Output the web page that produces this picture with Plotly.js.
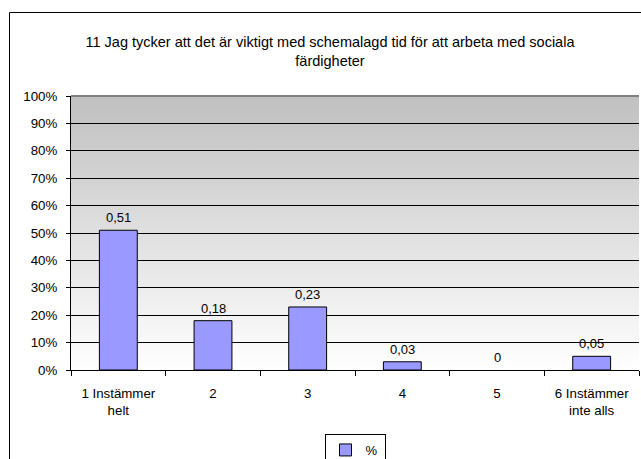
<!DOCTYPE html>
<html>
<head>
<meta charset="utf-8">
<script src="https://cdn.plot.ly/plotly-3.0.1.min.js"></script>
<style>
  html, body { margin: 0; padding: 0; background: #ffffff; }
  #wrap { position: relative; width: 641px; height: 459px; overflow: hidden; }
  #bg { position: absolute; left: 71px; top: 96px; width: 568px; height: 274px;
        background: linear-gradient(to bottom, #c0c0c0 0%, #ffffff 100%); z-index: 0; }
  #chart { position: absolute; left: 0; top: 0; width: 641px; height: 459px; z-index: 1; }
</style>
</head>
<body>
<div id="wrap">
  <div id="bg"></div>
  <div id="chart"></div>
</div>
<script>
const categories = ["1 Instämmer<br>helt", "2", "3", "4", "5", "6 Instämmer<br>inte alls"];
const values = [0.51, 0.18, 0.23, 0.03, 0, 0.05];
const seriesName = "%";
const chartTitle = "11 Jag tycker att det är viktigt med schemalagd tid för att arbeta med sociala<br>färdigheter";
const labels = values.map(v => String(v).replace('.', ','));

const FONT = "Liberation Sans, Arial, sans-serif";

const bars = {
  type: 'bar',
  x: categories,
  y: values,
  name: seriesName,
  width: 0.4,
  marker: { color: '#9999ff', line: { color: '#000000', width: values.map(v => v === 0 ? 0 : 1) } },
  hoverinfo: 'skip'
};

const valueAnnotations = categories.map((c, i) => ({
  x: i, y: values[i], xref: 'x', yref: 'y',
  text: labels[i], showarrow: false,
  yanchor: 'bottom', xanchor: 'center', yshift: 3,
  font: { family: FONT, size: 13, color: '#000' }
}));

const layout = {
  width: 641,
  height: 459,
  margin: { l: 71, r: 2, t: 96, b: 89, pad: 0, autoexpand: false },
  paper_bgcolor: 'rgba(0,0,0,0)',
  plot_bgcolor: 'rgba(0,0,0,0)',
  font: { family: FONT, size: 13, color: '#000' },
  title: {
    text: chartTitle,
    font: { family: FONT, size: 14.5, color: '#000' },
    xref: 'container', x: 330 / 641, xanchor: 'center',
    yref: 'container', y: 1 - 47 / 459, yanchor: 'top'
  },
  showlegend: true,
  legend: {
    orientation: 'h',
    x: 0.5, xanchor: 'center',
    y: (370 - 434) / 274, yanchor: 'top',
    itemwidth: 30,
    entrywidth: 14, entrywidthmode: 'pixels',
    bordercolor: '#000', borderwidth: 1, bgcolor: '#ffffff',
    font: { family: FONT, size: 13, color: '#000' }
  },
  xaxis: {
    type: 'category',
    range: [-0.5, 5.5],
    tickson: 'boundaries',
    ticks: 'outside', ticklen: 5, tickcolor: '#000', tickwidth: 1,
    showline: true, linecolor: '#000', linewidth: 1,
    showgrid: false, zeroline: false,
    ticklabelstandoff: 11,
    tickfont: { family: FONT, size: 13.3, color: '#000' },
    fixedrange: true
  },
  yaxis: {
    range: [0, 1],
    dtick: 0.1,
    tick0: 0,
    tickformat: '.0%',
    ticks: 'outside', ticklen: 4, tickcolor: '#000', tickwidth: 1,
    showline: true, linecolor: '#000', linewidth: 1,
    showgrid: true, gridcolor: '#000', gridwidth: 1,
    zeroline: false,
    ticklabelstandoff: 6,
    tickfont: { family: FONT, size: 13.3, color: '#000' },
    fixedrange: true
  },
  annotations: valueAnnotations,
  shapes: [
    { type: 'rect', xref: 'paper', yref: 'paper',
      x0: (9.5 - 71) / 568, x1: 1.1, y0: -0.5, y1: (370 - 12.5) / 274,
      line: { color: '#000', width: 1 }, fillcolor: 'rgba(0,0,0,0)', layer: 'below' },
    { type: 'line', xref: 'paper', yref: 'paper',
      x0: 0, x1: 1, y0: 1, y1: 1,
      line: { color: '#808080', width: 2 }, layer: 'above' }
  ]
};

Plotly.newPlot('chart', [bars], layout, { displayModeBar: false, staticPlot: true });
</script>
</body>
</html>
